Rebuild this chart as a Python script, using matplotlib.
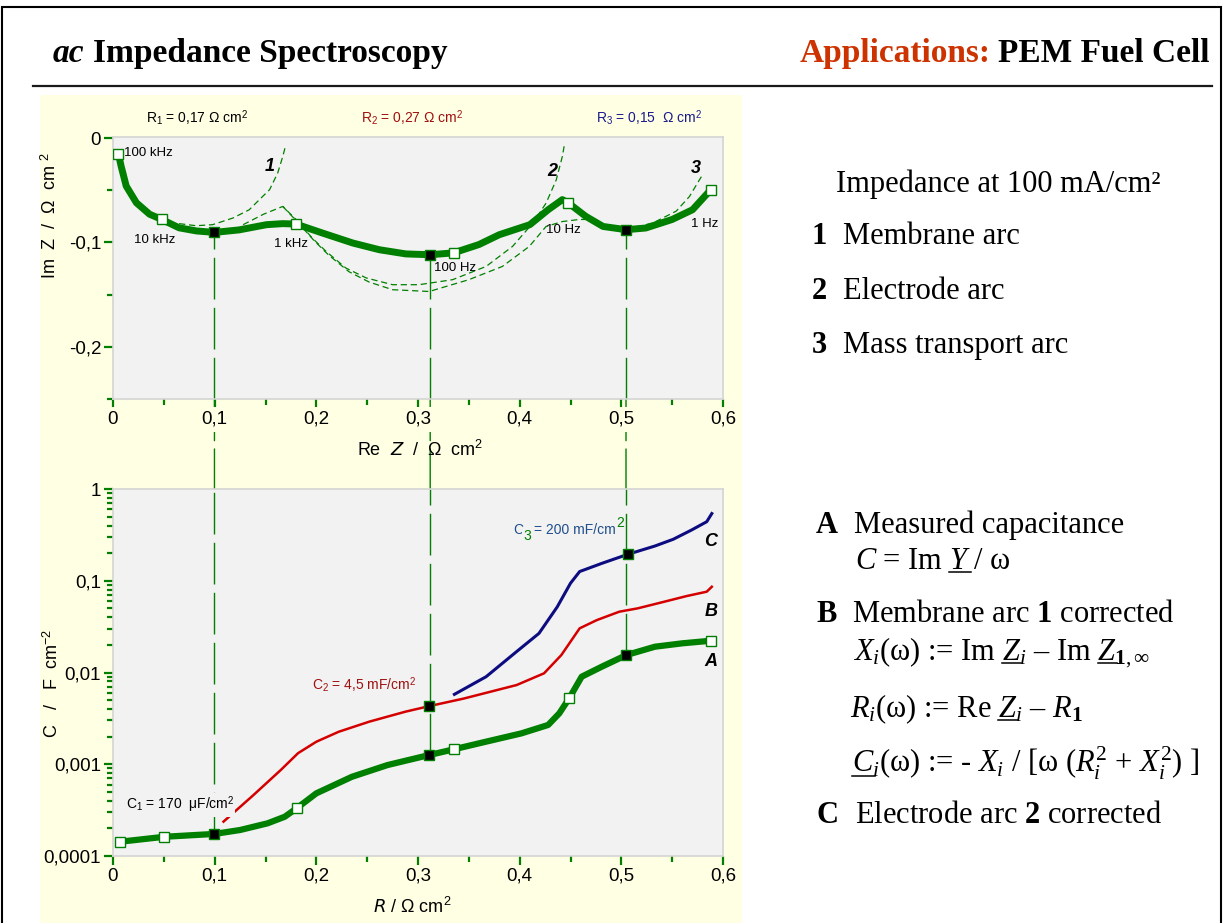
import matplotlib.pyplot as plt
import numpy as np
from matplotlib.lines import Line2D
from matplotlib.patches import ConnectionPatch, Rectangle
from matplotlib.ticker import FixedLocator, LogLocator, NullFormatter

plt.rcParams.update({
    "font.family": ["Liberation Sans", "DejaVu Sans"],
    "mathtext.fontset": "custom",
    "mathtext.rm": "Liberation Serif",
    "mathtext.it": "Liberation Serif:italic",
    "mathtext.bf": "Liberation Serif:bold",
})

# ---------------- data ----------------
# Nyquist plot (Re Z, Im Z) in Ohm cm2
nyq_re = [0.0054, 0.008, 0.013, 0.023, 0.036, 0.048, 0.065, 0.082, 0.0998, 0.124,
          0.151, 0.167, 0.180, 0.206, 0.236, 0.262, 0.288, 0.312, 0.335, 0.360,
          0.380, 0.410, 0.428, 0.442, 0.448, 0.465, 0.482, 0.5046, 0.524, 0.550,
          0.570, 0.588]
nyq_im = [-0.0153, -0.027, -0.046, -0.062, -0.073, -0.078, -0.086, -0.089, -0.0904, -0.088,
          -0.083, -0.082, -0.0824, -0.091, -0.1006, -0.107, -0.111, -0.1118, -0.110, -0.102,
          -0.0926, -0.083, -0.0687, -0.059, -0.0623, -0.075, -0.0847, -0.0878, -0.0862, -0.078,
          -0.0687, -0.0495]

freq_re = [0.0054, 0.048, 0.180, 0.335, 0.448, 0.588]
freq_im = [-0.0153, -0.078, -0.0824, -0.110, -0.0623, -0.0495]
freq_labels = ["100 kHz", "10 kHz", "1 kHz", "100 Hz", "10 Hz", "1 Hz"]

key_re = [0.0998, 0.312, 0.5046]
key_im = [-0.0904, -0.1118, -0.0878]

# fitted arcs (dashed)
arc1_re = [0.065, 0.0818, 0.098, 0.118, 0.134, 0.144, 0.154, 0.162, 0.167, 0.170]
arc1_im = [-0.082, -0.084, -0.083, -0.0766, -0.0687, -0.059, -0.0495, -0.0335, -0.0176, -0.0064]
arc2_re = [0.128, 0.148, 0.167, 0.180, 0.196, 0.2096, 0.229, 0.249, 0.275, 0.301,
           0.334, 0.367, 0.393, 0.413, 0.426, 0.436, 0.442, 0.444]
arc2_im = [-0.083, -0.073, -0.0655, -0.078, -0.0958, -0.1086, -0.1245, -0.134, -0.1405, -0.1405,
           -0.1357, -0.123, -0.1038, -0.0814, -0.0623, -0.040, -0.0176, -0.0064]
arc2b_re = [0.167, 0.182, 0.198, 0.212, 0.232, 0.252, 0.275, 0.311, 0.350, 0.383,
            0.4095, 0.426, 0.442, 0.4587, 0.465]
arc2b_im = [-0.0655, -0.081, -0.0985, -0.112, -0.128, -0.138, -0.1453, -0.147, -0.1357, -0.123,
            -0.1038, -0.0847, -0.080, -0.078, -0.078]
arc3_re = [0.495, 0.511, 0.531, 0.554, 0.567, 0.575, 0.580]
arc3_im = [-0.087, -0.086, -0.0814, -0.070, -0.056, -0.043, -0.035]
arc_names = ["1", "2", "3"]
arc_name_re = [0.154, 0.432, 0.573]
arc_name_im = [-0.027, -0.032, -0.029]

r_labels = [r"R$_\mathregular{1}$ = 0,17 Ω cm$^\mathregular{2}$",
            r"R$_\mathregular{2}$ = 0,27 Ω cm$^\mathregular{2}$",
            r"R$_\mathregular{3}$ = 0,15  Ω cm$^\mathregular{2}$"]

# capacitance plot, C in F/cm2 vs R in Ohm cm2
capA_R = [0.0068, 0.0506, 0.0998, 0.125, 0.152, 0.169, 0.1814, 0.200, 0.235, 0.270,
          0.311, 0.3358, 0.3667, 0.4017, 0.428, 0.439, 0.449, 0.461, 0.481, 0.505,
          0.533, 0.560, 0.588]
capA = [1.43e-4, 1.62e-4, 1.74e-4, 1.92e-4, 2.27e-4, 2.68e-4, 3.36e-4, 4.82e-4, 7.3e-4, 9.8e-4,
        1.26e-3, 1.46e-3, 1.76e-3, 2.17e-3, 2.68e-3, 3.59e-3, 5.3e-3, 9.0e-3, 1.16e-2, 1.55e-2,
        1.91e-2, 2.08e-2, 2.22e-2]
capB_R = [0.1087, 0.138, 0.165, 0.182, 0.200, 0.222, 0.252, 0.2876, 0.311, 0.345,
          0.397, 0.424, 0.441, 0.459, 0.476, 0.498, 0.516, 0.542, 0.564, 0.584, 0.589]
capB = [2.37e-4, 4.6e-4, 8.65e-4, 1.32e-3, 1.76e-3, 2.26e-3, 2.91e-3, 3.74e-3, 4.3e-3, 5.2e-3,
        7.3e-3, 9.8e-3, 1.55e-2, 3.03e-2, 3.73e-2, 4.6e-2, 5.0e-2, 5.9e-2, 6.8e-2, 7.6e-2, 8.6e-2]
capC_R = [0.3358, 0.367, 0.397, 0.419, 0.437, 0.450, 0.459, 0.481, 0.5063, 0.533,
          0.551, 0.569, 0.584, 0.589]
capC = [5.78e-3, 9.0e-3, 1.69e-2, 2.67e-2, 5.2e-2, 9.4e-2, 0.126, 0.155, 0.194, 0.239,
        0.283, 0.357, 0.44, 0.54]

capA_open_R = [0.0068, 0.0506, 0.1814, 0.3358, 0.449, 0.588]
capA_open = [1.43e-4, 1.62e-4, 3.36e-4, 1.46e-3, 5.3e-3, 2.22e-2]
cap_key_R = [0.0998, 0.311, 0.505, 0.311, 0.5063]
cap_key = [1.74e-4, 1.26e-3, 1.55e-2, 4.3e-3, 0.194]
link_bottom = [1.74e-4, 1.26e-3, 1.55e-2]

curve_names = ["C", "B", "A"]
curve_name_R = [0.588, 0.588, 0.588]
curve_name_C = [0.27, 0.046, 0.0131]

x_ticks = [0, 0.1, 0.2, 0.3, 0.4, 0.5, 0.6]
x_ticklabels = ["0", "0,1", "0,2", "0,3", "0,4", "0,5", "0,6"]
y1_ticks = [0, -0.1, -0.2]
y1_ticklabels = ["0", "-0,1", "-0,2"]
y2_ticks = [1e-4, 1e-3, 1e-2, 1e-1, 1]
y2_ticklabels = ["0,0001", "0,001", "0,01", "0,1", "1"]

# ---------------- styling ----------------
W, H = 1225, 923
GREEN = "#007f00"
RED = "#d40000"
DKRED = "#a01010"
NAVY = "#0c0c80"
BLUE = "#1f4e8c"
YELLOW = "#ffffe4"
GRAY = "#f2f2f2"
SERIF = "Liberation Serif"
DASH = (0, (30, 6))

fig = plt.figure(figsize=(W / 100, H / 100), dpi=100)
renderer = fig.canvas.get_renderer()


def ptext(px, py, s, **kw):
    kw.setdefault("family", SERIF)
    kw.setdefault("fontsize", 22)
    kw.setdefault("va", "baseline")
    return fig.text(px / W, 1 - py / H, s, **kw)


def width_px(s, **kw):
    kw.setdefault("family", SERIF)
    kw.setdefault("fontsize", 22)
    t = fig.text(0, 0, s, **kw)
    w = t.get_window_extent(renderer).width
    t.remove()
    return w


def underline(px, py, prefix, target):
    x1 = px + width_px(prefix)
    x0 = x1 - width_px(target)
    fig.add_artist(Line2D([x0 / W, x1 / W], [1 - (py + 3) / H] * 2, color="black", lw=1.1))


# frame, rule and yellow panel
fig.add_artist(Rectangle((1.5 / W, -0.05), 1219.5 / W, 1.05 - 7 / H, fill=False,
                         ec="black", lw=1.5, zorder=5))
fig.add_artist(Line2D([33 / W, 1212 / W], [1 - 86 / H] * 2, color="#1a1a1a", lw=1.6))
fig.add_artist(Rectangle((40 / W, 0), 702 / W, 1 - 95 / H, fc=YELLOW, ec="none", zorder=0))

# title
ptext(53, 62, "ac", fontsize=24, weight="bold", style="italic")
ptext(53 + width_px("ac", fontsize=24, weight="bold", style="italic") + 8, 62,
      "Impedance Spectroscopy", fontsize=24, weight="bold")
ptext(1210, 62, "PEM Fuel Cell", fontsize=24, weight="bold", ha="right")
ptext(1210 - width_px("PEM Fuel Cell", fontsize=24, weight="bold") - 8, 62,
      "Applications:", fontsize=24, weight="bold", ha="right", color="#cc3300")

# ---------------- axes ----------------
ax1 = fig.add_axes([113 / W, 1 - 399 / H, 610 / W, 262 / H])
ax2 = fig.add_axes([113 / W, 1 - 856 / H, 610 / W, 367 / H])
for ax in (ax1, ax2):
    ax.set_facecolor(GRAY)
    ax.set_zorder(1)
    for sp in ax.spines.values():
        sp.set_color("#d4d4d4")
        sp.set_linewidth(1.2)
    ax.tick_params(which="both", direction="out", color=GREEN, width=1.6,
                   labelsize=13.5, pad=2)
    ax.tick_params(which="major", length=6.5)
    ax.tick_params(which="minor", length=4)
    ax.set_xlim(0, 0.6)
    ax.set_xticks(x_ticks)
    ax.set_xticklabels(x_ticklabels)
    ax.xaxis.set_minor_locator(FixedLocator(np.arange(0.05, 0.6, 0.1)))

ax1.set_ylim(-0.25, 0.001)
ax1.set_yticks(y1_ticks)
ax1.set_yticklabels(y1_ticklabels)
ax1.yaxis.set_minor_locator(FixedLocator([-0.05, -0.15, -0.25]))
for lab in ax1.get_xticklabels():
    lab.set_bbox(dict(fc=YELLOW, ec="none", pad=3))

ax2.set_yscale("log")
ax2.set_ylim(1e-4, 1)
ax2.set_yticks(y2_ticks)
ax2.set_yticklabels(y2_ticklabels)
ax2.yaxis.set_minor_locator(LogLocator(base=10, subs=np.arange(2, 10)))
ax2.yaxis.set_minor_formatter(NullFormatter())

ax1.set_ylabel(r"Im  Z  /  Ω  cm $^\mathregular{2}$", fontsize=13)
ax1.yaxis.set_label_coords(-0.087, 0.70)
ax1.set_xlabel(r"Re  $\mathregular{\it{Z}}$  /  Ω  cm$^\mathregular{2}$", fontsize=13,
               math_fontfamily="dejavusans")
ax1.xaxis.set_label_coords(0.503, -0.155)
ax2.set_ylabel(r"C   /   F  cm$^\mathregular{-2}$", fontsize=13)
ax2.yaxis.set_label_coords(-0.084, 0.471)
ax2.set_xlabel(r"$\it{R}$ / Ω cm$^\mathregular{2}$", fontsize=13, math_fontfamily="dejavusans")
ax2.xaxis.set_label_coords(0.49, -0.111)

# ---------------- Nyquist plot ----------------
ax1.plot(nyq_re, nyq_im, color=GREEN, lw=5, solid_joinstyle="round",
         solid_capstyle="round", zorder=3)
for xs, ys in ((arc1_re, arc1_im), (arc2_re, arc2_im), (arc2b_re, arc2b_im), (arc3_re, arc3_im)):
    ax1.plot(xs, ys, color=GREEN, lw=0.9, ls=(0, (5, 3)), zorder=2)
ax1.plot(freq_re, freq_im, ls="none", marker="s", ms=6.5, mfc="white", mec=GREEN,
         mew=1, zorder=4)
ax1.plot(key_re, key_im, ls="none", marker="s", ms=6.5, mfc="black", mec=GREEN,
         mew=1, zorder=4)

freq_offsets = [(6, 1), (-7, -21), (-5, -20), (1, -15), (-5, -27), (-6, -34)]
for lab, x, y, off in zip(freq_labels, freq_re, freq_im, freq_offsets):
    ax1.annotate(lab, (x, y), xytext=off, textcoords="offset pixels",
                 ha="left" if lab == "100 kHz" else "center", va="center", fontsize=9.5, zorder=5)
for lab, x, y in zip(arc_names, arc_name_re, arc_name_im):
    ax1.text(x, y, lab, fontsize=13, weight="bold", style="italic", ha="center", va="center")

for lab, xa, col in zip(r_labels, [0.054, 0.407, 0.791], ["black", DKRED, "#1a1a8c"]):
    ax1.text(xa, 1.073, lab, transform=ax1.transAxes, fontsize=10, va="center", color=col)

# ---------------- capacitance plot ----------------
ax2.plot(capA_R, capA, color=GREEN, lw=4.5, solid_joinstyle="round", zorder=3)
ax2.plot(capB_R, capB, color=RED, lw=1.8, zorder=3)
ax2.plot(capC_R, capC, color=NAVY, lw=2.2, zorder=3)
ax2.plot(capA_open_R, capA_open, ls="none", marker="s", ms=6.5, mfc="white", mec=GREEN,
         mew=1, zorder=4)
ax2.plot(cap_key_R, cap_key, ls="none", marker="s", ms=6.5, mfc="black", mec=GREEN,
         mew=1, zorder=4)
for lab, x, y in zip(curve_names, curve_name_R, curve_name_C):
    ax2.text(x, y, lab, fontsize=13, weight="bold", style="italic", ha="center", va="center")

box = dict(fc=GRAY, ec="none", pad=1)
ax2.text(0.0123, 3.6e-4, r"C$_\mathregular{1}$ = 170  μF/cm$^\mathregular{2}$", fontsize=10,
         va="center", bbox=box, zorder=5)
ax2.text(0.196, 7.3e-3, r"C$_\mathregular{2}$ = 4,5 mF/cm$^\mathregular{2}$", fontsize=10,
         va="center", color=DKRED, bbox=box, zorder=5)
# C3 label with coloured indices
c3_parts = [("C", BLUE, 10, 0, 0), ("3", GREEN, 10, -6, 0), ("= 200 mF/cm", BLUE, 10, 0, 3),
            ("2", GREEN, 10, 7, 0)]
dx = 0
for s, col, fs, dy, gap in c3_parts:
    dx += gap
    t = ax2.annotate(s, (0.394, 0.357), xytext=(dx, dy), textcoords="offset pixels",
                     fontsize=fs, color=col, va="center", bbox=box, zorder=5)
    dx += t.get_window_extent(renderer).width

# ---------------- vertical links ----------------
for x, yt, yb in zip(key_re, key_im, link_bottom):
    ax1.vlines(x, -0.25, yt, colors=GREEN, lw=1, linestyles=DASH, zorder=1.5)
    ax2.vlines(x, yb, 1, colors=GREEN, lw=1, linestyles=DASH, zorder=1.5)
    con = ConnectionPatch((x, -0.25), (x, 1), coordsA=ax1.transData, coordsB=ax2.transData,
                          color=GREEN, lw=1, ls=DASH, zorder=0.5)
    fig.add_artist(con)

# ---------------- right-hand text ----------------
ptext(836, 192, "Impedance at 100 mA/cm²")
for num, txt, y in zip(["1", "2", "3"], ["Membrane arc", "Electrode arc", "Mass transport arc"],
                       [244, 299, 353]):
    ptext(812, y, num, weight="bold")
    ptext(843, y, txt)

ptext(816, 533, "A", weight="bold")
ptext(854, 533, "Measured capacitance")
f1 = r"$C$ = Im $Y$ / ω"
ptext(855, 569, f1)
underline(855, 569, r"$C$ = Im $Y$", r"$Y$")

ptext(816, 622, "B", weight="bold")
ptext(852, 622, r"Membrane arc $\mathbf{1}$ corrected")
f2 = r"$X_i$(ω) := Im $Z_i$ – Im $Z_{\mathbf{1},\infty}$"
ptext(853, 660, f2)
underline(853, 660, r"$X_i$(ω) := Im $Z$", r"$Z$")
underline(853, 660, r"$X_i$(ω) := Im $Z_i$ – Im $Z$", r"$Z$")

f3 = r"$R_i$(ω) := Re $Z_i$ – $R_\mathbf{1}$"
ptext(850, 717, f3)
underline(850, 717, r"$R_i$(ω) := Re $Z$", r"$Z$")

f4 = r"$C_i$(ω) := - $X_i$ / [ω ($R_i^2$ + $X_i^2$) ]"
ptext(852, 773, f4)
underline(852, 773, r"$C$", r"$C$")

ptext(816, 823, "C", weight="bold")
ptext(855, 823, r"Electrode arc $\mathbf{2}$ corrected")

fig.savefig("out.png", dpi=100)
plt.close()
